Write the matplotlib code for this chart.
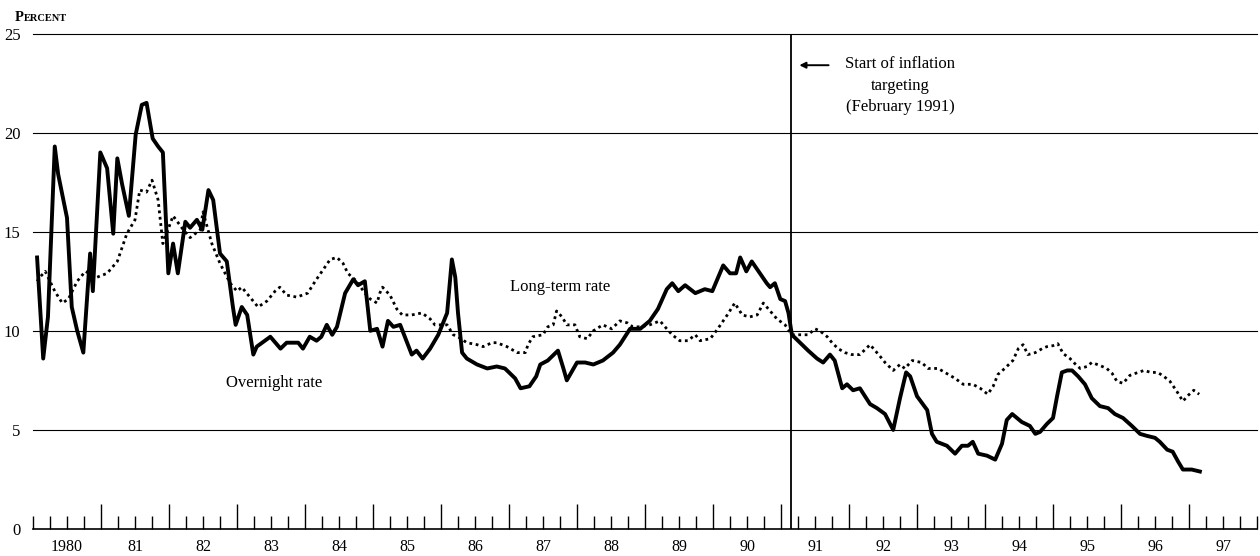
import numpy as np
import matplotlib
matplotlib.use("Agg")
import matplotlib.pyplot as plt
from matplotlib.transforms import blended_transform_factory

# overnight rate (solid) as (year, percent)
on_year = [1980.06, 1980.15, 1980.22, 1980.32, 1980.37, 1980.50, 1980.57, 1980.65, 1980.74, 1980.84,
           1980.88, 1980.99, 1981.09, 1981.18, 1981.24, 1981.31, 1981.41, 1981.51, 1981.60, 1981.67,
           1981.76, 1981.84, 1981.91, 1981.99, 1982.06, 1982.13, 1982.24, 1982.31, 1982.41, 1982.49,
           1982.58, 1982.65, 1982.75, 1982.85, 1982.94, 1982.98, 1983.07, 1983.15, 1983.24, 1983.29,
           1983.49, 1983.64, 1983.73, 1983.90, 1983.97, 1984.07, 1984.17, 1984.24, 1984.32, 1984.40,
           1984.47, 1984.59, 1984.71, 1984.78, 1984.88, 1984.96, 1985.06, 1985.14, 1985.22, 1985.30,
           1985.40, 1985.57, 1985.64, 1985.73, 1985.84, 1985.96, 1986.09, 1986.16, 1986.21, 1986.25,
           1986.31, 1986.38, 1986.53, 1986.68, 1986.82, 1986.94, 1987.09, 1987.17, 1987.30, 1987.40,
           1987.46, 1987.57, 1987.72, 1987.80, 1987.85, 1988.00, 1988.12, 1988.24, 1988.38, 1988.53,
           1988.63, 1988.78, 1988.93, 1989.07, 1989.19, 1989.32, 1989.40, 1989.49, 1989.59, 1989.74,
           1989.88, 1989.99, 1990.15, 1990.25, 1990.34, 1990.40, 1990.49, 1990.57, 1990.69, 1990.79,
           1990.84, 1990.91, 1990.99, 1991.06, 1991.11, 1991.16, 1991.28, 1991.40, 1991.53, 1991.62,
           1991.72, 1991.79, 1991.90, 1991.97, 1992.06, 1992.16, 1992.31, 1992.41, 1992.53, 1992.65,
           1992.75, 1992.84, 1992.90, 1993.00, 1993.15, 1993.22, 1993.29, 1993.44, 1993.56, 1993.66,
           1993.75, 1993.82, 1993.90, 1994.03, 1994.15, 1994.25, 1994.32, 1994.40, 1994.54, 1994.66,
           1994.74, 1994.81, 1994.91, 1995.00, 1995.06, 1995.13, 1995.21, 1995.28, 1995.37, 1995.47,
           1995.57, 1995.69, 1995.81, 1995.91, 1996.03, 1996.16, 1996.28, 1996.38, 1996.50, 1996.57,
           1996.68, 1996.76, 1996.84, 1996.91, 1997.04, 1997.16]
on_rate = [13.7, 8.6, 10.7, 19.3, 17.9, 15.7, 11.2, 10.0, 8.9, 13.9,
           12.0, 19.0, 18.2, 14.9, 18.7, 17.4, 15.8, 19.9, 21.4, 21.5,
           19.7, 19.3, 19.0, 12.9, 14.4, 12.9, 15.5, 15.2, 15.6, 15.1,
           17.1, 16.6, 13.9, 13.5, 11.2, 10.3, 11.2, 10.8, 8.8, 9.2,
           9.7, 9.1, 9.4, 9.4, 9.1, 9.7, 9.5, 9.7, 10.3, 9.8,
           10.2, 11.9, 12.6, 12.3, 12.5, 10.0, 10.1, 9.2, 10.5, 10.2,
           10.3, 8.8, 9.0, 8.6, 9.1, 9.8, 10.9, 13.6, 12.7, 10.9,
           8.9, 8.6, 8.3, 8.1, 8.2, 8.1, 7.6, 7.1, 7.2, 7.7,
           8.3, 8.5, 9.0, 8.1, 7.5, 8.4, 8.4, 8.3, 8.5, 8.9,
           9.3, 10.1, 10.1, 10.5, 11.1, 12.1, 12.4, 12.0, 12.3, 11.9,
           12.1, 12.0, 13.3, 12.9, 12.9, 13.7, 13.0, 13.5, 12.9, 12.4,
           12.2, 12.4, 11.6, 11.5, 10.9, 9.8, 9.4, 9.0, 8.6, 8.4,
           8.8, 8.5, 7.1, 7.3, 7.0, 7.1, 6.3, 6.1, 5.8, 5.0,
           6.6, 7.9, 7.7, 6.7, 6.0, 4.8, 4.4, 4.2, 3.8, 4.2,
           4.2, 4.4, 3.8, 3.7, 3.5, 4.3, 5.5, 5.8, 5.4, 5.2,
           4.8, 4.9, 5.3, 5.6, 6.7, 7.9, 8.0, 8.0, 7.7, 7.3,
           6.6, 6.2, 6.1, 5.8, 5.6, 5.2, 4.8, 4.7, 4.6, 4.4,
           4.0, 3.9, 3.4, 3.0, 3.0, 2.9]

# long-term rate (dotted)
lt_year = [1980.06, 1980.10, 1980.18, 1980.32, 1980.43, 1980.52, 1980.65, 1980.77, 1980.94, 1981.09,
           1981.24, 1981.38, 1981.50, 1981.57, 1981.67, 1981.75, 1981.84, 1981.91, 1982.06, 1982.21,
           1982.31, 1982.46, 1982.50, 1982.63, 1982.75, 1982.90, 1983.00, 1983.07, 1983.19, 1983.31,
           1983.44, 1983.56, 1983.63, 1983.73, 1983.88, 1984.04, 1984.15, 1984.25, 1984.37, 1984.47,
           1984.56, 1984.63, 1984.76, 1984.88, 1984.96, 1985.06, 1985.10, 1985.14, 1985.25, 1985.35,
           1985.43, 1985.57, 1985.72, 1985.84, 1985.91, 1986.09, 1986.18, 1986.25, 1986.38, 1986.53,
           1986.62, 1986.75, 1986.82, 1986.97, 1987.12, 1987.24, 1987.28, 1987.35, 1987.50, 1987.57,
           1987.65, 1987.70, 1987.78, 1987.85, 1987.97, 1988.04, 1988.15, 1988.24, 1988.38, 1988.51,
           1988.63, 1988.74, 1988.82, 1988.93, 1989.07, 1989.22, 1989.32, 1989.40, 1989.51, 1989.63,
           1989.74, 1989.81, 1989.96, 1990.07, 1990.21, 1990.32, 1990.43, 1990.54, 1990.65, 1990.74,
           1990.84, 1990.94, 1991.06, 1991.16, 1991.28, 1991.40, 1991.50, 1991.57, 1991.68, 1991.75,
           1991.84, 1991.94, 1992.04, 1992.16, 1992.31, 1992.46, 1992.53, 1992.65, 1992.75, 1992.82,
           1992.93, 1993.07, 1993.16, 1993.31, 1993.41, 1993.56, 1993.68, 1993.82, 1993.93, 1994.04,
           1994.12, 1994.19, 1994.29, 1994.41, 1994.49, 1994.56, 1994.63, 1994.74, 1994.84, 1994.91,
           1995.00, 1995.07, 1995.15, 1995.25, 1995.32, 1995.40, 1995.50, 1995.57, 1995.69, 1995.79,
           1995.87, 1995.94, 1996.03, 1996.13, 1996.25, 1996.34, 1996.44, 1996.54, 1996.63, 1996.72,
           1996.82, 1996.91, 1996.99, 1997.07, 1997.15]
lt_rate = [12.5, 12.7, 13.0, 12.0, 11.4, 11.6, 12.5, 13.0, 12.7, 12.9,
           13.5, 14.9, 15.6, 17.1, 17.0, 17.6, 16.6, 14.4, 15.8, 15.1,
           14.7, 15.1, 16.0, 14.4, 13.4, 12.4, 12.0, 12.2, 11.7, 11.2,
           11.5, 12.0, 12.2, 11.8, 11.7, 11.9, 12.5, 13.0, 13.6, 13.7,
           13.4, 12.9, 12.5, 11.9, 11.6, 11.4, 11.9, 12.2, 11.8, 11.1,
           10.8, 10.8, 10.9, 10.6, 10.3, 10.3, 9.8, 9.7, 9.4, 9.3,
           9.2, 9.4, 9.4, 9.2, 8.9, 8.9, 9.3, 9.7, 9.8, 10.2,
           10.3, 11.0, 10.7, 10.3, 10.3, 9.7, 9.6, 10.0, 10.3, 10.1,
           10.5, 10.4, 10.2, 10.2, 10.3, 10.5, 10.1, 9.8, 9.5, 9.5,
           9.8, 9.5, 9.6, 10.1, 10.8, 11.4, 10.8, 10.7, 10.8, 11.4,
           11.0, 10.6, 10.3, 9.8, 9.8, 9.8, 10.1, 10.0, 9.7, 9.4,
           9.1, 8.9, 8.8, 8.8, 9.3, 8.7, 8.4, 8.0, 8.3, 8.1,
           8.5, 8.4, 8.1, 8.1, 7.9, 7.6, 7.3, 7.3, 7.1, 6.8,
           7.2, 7.8, 8.1, 8.5, 9.1, 9.3, 8.8, 8.9, 9.1, 9.2,
           9.25, 9.35, 8.85, 8.6, 8.35, 8.1, 8.2, 8.4, 8.25, 8.1,
           7.85, 7.45, 7.35, 7.75, 7.9, 8.0, 7.9, 7.9, 7.7, 7.45,
           6.95, 6.45, 6.75, 7.0, 6.8]

year_labels = ["1980", "81", "82", "83", "84", "85", "86", "87", "88",
               "89", "90", "91", "92", "93", "94", "95", "96", "97"]
grid_levels = [5, 10, 15, 20, 25]
target_start = 1991.15

plt.rcParams["font.family"] = ["Liberation Serif", "DejaVu Serif"]

fig = plt.figure(figsize=(12.6, 5.56), dpi=100)
ax = fig.add_axes([33 / 1260, 27 / 556, 1224 / 1260, 495.5 / 556])
ax.set_xlim(1980, 1998)
ax.set_ylim(0, 25)

for g in grid_levels:
    ax.axhline(g, color="black", lw=0.8, zorder=1, clip_on=False)

ax.plot(lt_year, lt_rate, color="black", lw=2.0, linestyle=(0, (1, 1.3)),
        dash_capstyle="butt", zorder=3)
ax.plot(on_year, on_rate, color="black", lw=2.8, solid_joinstyle="round", zorder=4)

ax.axvline(target_start, color="black", lw=1.3, zorder=2)

# spines / ticks
for s in ["top", "left", "right"]:
    ax.spines[s].set_visible(False)
ax.spines["bottom"].set_linewidth(1.2)
major = list(range(1981, 1998))
minor = [y + q / 4 for y in range(1980, 1998) for q in range(4)] + [1998]
minor = [m for m in minor if m not in major]
ax.set_xticks(major)
ax.set_xticks(minor, minor=True)
ax.tick_params(axis="x", which="major", direction="in", length=18, width=1.0, labelbottom=False)
ax.tick_params(axis="x", which="minor", direction="in", length=9.5, width=1.0, labelbottom=False)
ax.set_yticks([0] + grid_levels)
ax.set_yticklabels(["0"] + [str(g) for g in grid_levels])
ax.tick_params(axis="y", length=0, pad=9, labelsize=12)

trans = blended_transform_factory(ax.transData, ax.transAxes)
for i, lab in enumerate(year_labels):
    ax.text(1980.5 + i, -0.036, lab, transform=trans, ha="center", va="center",
            fontsize=11.5, clip_on=False)

# annotations
ax.annotate("", xy=(1991.27, 23.4), xytext=(1991.7, 23.4),
            arrowprops=dict(arrowstyle="-|>", color="black", lw=1.4,
                            mutation_scale=9, shrinkA=0, shrinkB=0))
ax.text(1992.75, 23.85, "Start of inflation\ntargeting\n(February 1991)",
        ha="center", va="top", fontsize=12, linespacing=1.45)
ax.text(1987.75, 12.2, "Long-term rate", ha="center", va="center", fontsize=12)
ax.text(1982.84, 7.75, "Overnight rate", ha="left", va="top", fontsize=12)

# small caps axis title
p = fig.text(15 / 1260, 1 - 21 / 556, "P", fontsize=10.5, fontweight="bold", va="baseline")
fig.canvas.draw()
bb = p.get_window_extent()
fig.text(bb.x1 / 1260, 1 - 21 / 556, "ERCENT", fontsize=7.5, fontweight="bold", va="baseline")

fig.savefig("out.png", dpi=100)
